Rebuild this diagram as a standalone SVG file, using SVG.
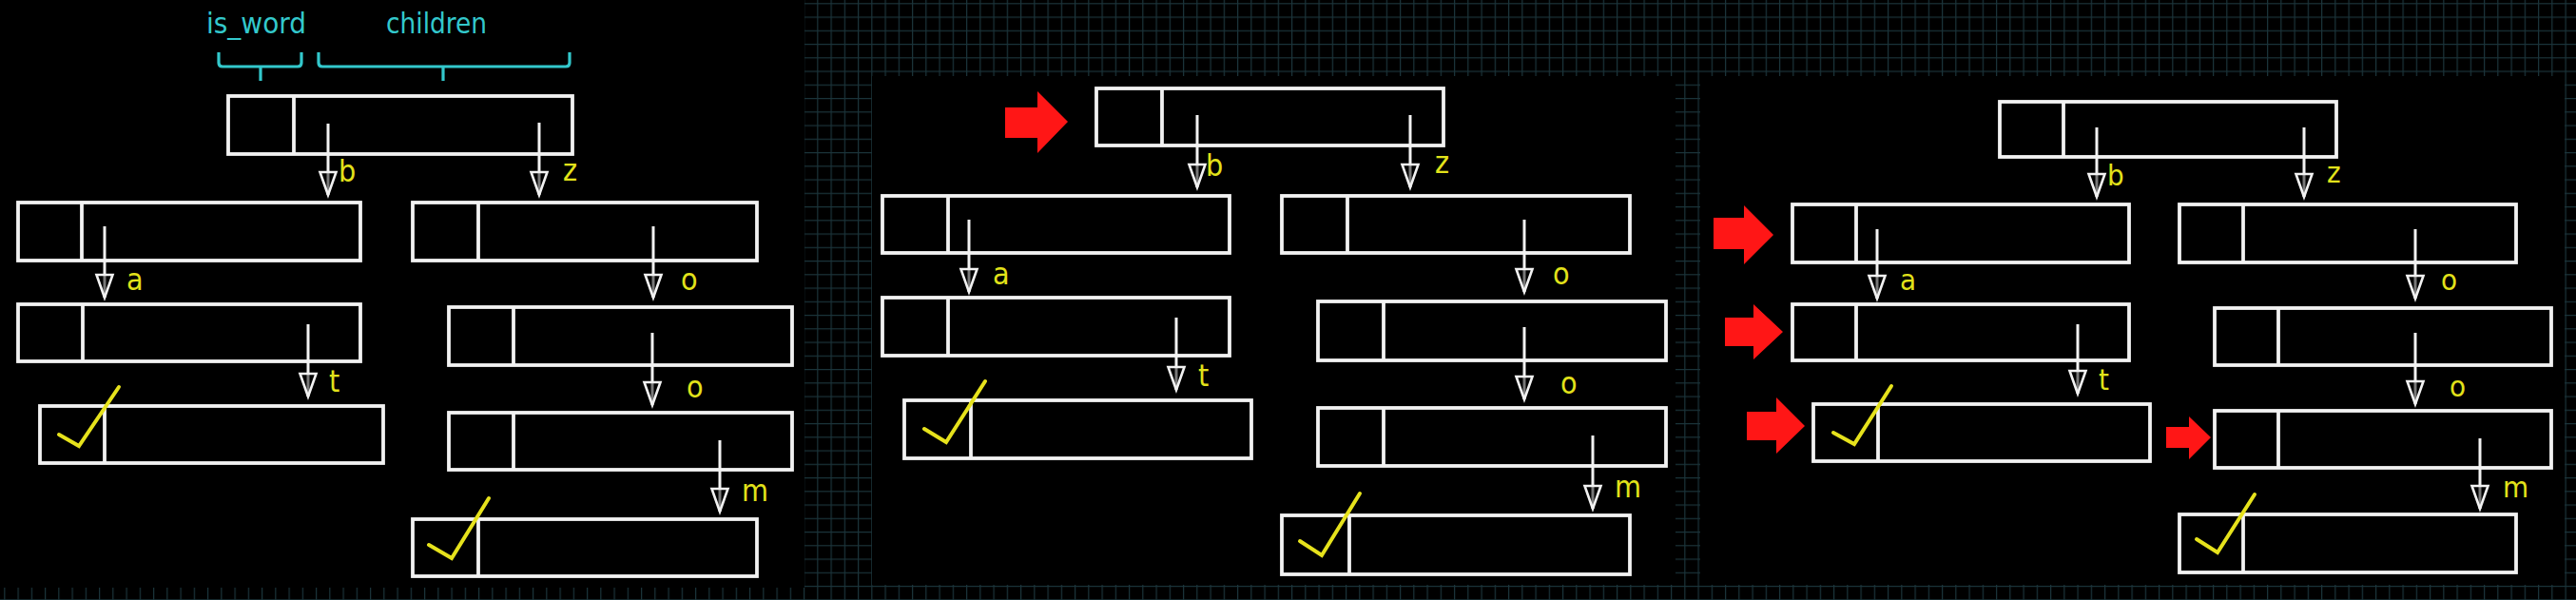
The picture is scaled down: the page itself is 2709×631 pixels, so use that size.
<svg xmlns="http://www.w3.org/2000/svg" width="2709" height="631" viewBox="0 0 2709 631">
<style>
.box{fill:none;stroke:#f2f2f2;stroke-width:3.8}
.conn{fill:none;stroke:#f2f2f2;stroke-width:3;marker-end:url(#ah)}
.lbl{fill:#e2e21a;font-family:"DejaVu Sans Condensed","DejaVu Sans",sans-serif;font-size:32px}
.lbl3{fill:#e2e21a;font-family:"DejaVu Sans Condensed","DejaVu Sans",sans-serif;font-size:31px}
.cy{fill:#33c8cc;font-family:"DejaVu Sans Condensed","DejaVu Sans",sans-serif;font-size:30px}
.brk{fill:none;stroke:#33c8cc;stroke-width:3.2;stroke-linejoin:round}
.chk{fill:none;stroke:#e6e21c;stroke-width:4;stroke-linecap:round;stroke-linejoin:miter}
.red{fill:#ff1616}
.panel{fill:#000}
</style>
<defs>
<pattern id="grid" patternUnits="userSpaceOnUse" x="4.25" y="3.25" width="14.25" height="14.25">
<path d="M0,0.6 H14.25 M0.6,0 V14.25" stroke="#1b343a" stroke-width="1.2" fill="none"/>
</pattern>
<marker id="ah" markerUnits="userSpaceOnUse" markerWidth="30" markerHeight="22" refX="25" refY="10" orient="auto" overflow="visible">
<path d="M1,1.5 L25,10 L1,18.5 Z" fill="#000" fill-opacity="0.5" stroke="#f2f2f2" stroke-width="2.6" stroke-linejoin="miter"/>
</marker>
</defs>

<g id="background">
<rect x="0" y="0" width="2709" height="631" fill="#000"/>
<rect x="0" y="0" width="2709" height="631" fill="url(#grid)"/>
<rect class="panel" x="0" y="0" width="846" height="618"/>
<rect class="panel" x="917" y="80" width="845" height="535"/>
<rect class="panel" x="1788" y="80" width="909" height="535"/>
</g>

<g id="legend">
<text class="cy" x="217" y="35" textLength="105" lengthAdjust="spacingAndGlyphs">is_word</text>
<text class="cy" x="406" y="35" textLength="106" lengthAdjust="spacingAndGlyphs">children</text>
<path class="brk" d="M230,55 V66 Q230,70 234,70 H313 Q317,70 317,66 V55 M274,70 V85"/>
<path class="brk" d="M335,55 V66 Q335,70 339,70 H595 Q599,70 599,66 V55 M466,70 V85"/>
</g>

<!-- Panel 1 nodes -->
<g id="p1-root"><rect class="box" x="240" y="101" width="362" height="61"/><line class="box" x1="309" y1="101" x2="309" y2="162"/></g>
<g id="p1-b"><rect class="box" x="19" y="213" width="360" height="61"/><line class="box" x1="86" y1="213" x2="86" y2="274"/></g>
<g id="p1-ba"><rect class="box" x="19" y="320" width="360" height="60"/><line class="box" x1="87" y1="320" x2="87" y2="380"/></g>
<g id="p1-bat"><rect class="box" x="42" y="427" width="361" height="60"/><line class="box" x1="110" y1="427" x2="110" y2="487"/><polyline class="chk" points="62,457 83,469 125,407"/></g>
<g id="p1-z"><rect class="box" x="434" y="213" width="362" height="61"/><line class="box" x1="503" y1="213" x2="503" y2="274"/></g>
<g id="p1-zo"><rect class="box" x="472" y="323" width="361" height="61"/><line class="box" x1="540" y1="323" x2="540" y2="384"/></g>
<g id="p1-zoo"><rect class="box" x="472" y="434" width="361" height="60"/><line class="box" x1="540" y1="434" x2="540" y2="494"/></g>
<g id="p1-zoom"><rect class="box" x="434" y="546" width="362" height="60"/><line class="box" x1="503" y1="546" x2="503" y2="606"/><polyline class="chk" points="451,573 475,587 514,524"/></g>

<!-- Panel 2 nodes -->
<g id="p2-root"><rect class="box" x="1153" y="93" width="365" height="60"/><line class="box" x1="1222" y1="93" x2="1222" y2="153"/></g>
<g id="p2-b"><rect class="box" x="928" y="206" width="365" height="60"/><line class="box" x1="997" y1="206" x2="997" y2="266"/></g>
<g id="p2-ba"><rect class="box" x="928" y="313" width="365" height="61"/><line class="box" x1="997" y1="313" x2="997" y2="374"/></g>
<g id="p2-bat"><rect class="box" x="951" y="421" width="365" height="61"/><line class="box" x1="1021" y1="421" x2="1021" y2="482"/><polyline class="chk" points="972,451 995,465 1036,401"/></g>
<g id="p2-z"><rect class="box" x="1348" y="206" width="366" height="60"/><line class="box" x1="1417" y1="206" x2="1417" y2="266"/></g>
<g id="p2-zo"><rect class="box" x="1386" y="317" width="366" height="62"/><line class="box" x1="1455" y1="317" x2="1455" y2="379"/></g>
<g id="p2-zoo"><rect class="box" x="1386" y="429" width="366" height="61"/><line class="box" x1="1455" y1="429" x2="1455" y2="490"/></g>
<g id="p2-zoom"><rect class="box" x="1348" y="542" width="366" height="62"/><line class="box" x1="1419" y1="542" x2="1419" y2="604"/><polyline class="chk" points="1367,569 1390,584 1430,519"/></g>

<!-- Panel 3 nodes -->
<g id="p3-root"><rect class="box" x="2103" y="107" width="354" height="58"/><line class="box" x1="2170" y1="107" x2="2170" y2="165"/></g>
<g id="p3-b"><rect class="box" x="1885" y="215" width="354" height="61"/><line class="box" x1="1952" y1="215" x2="1952" y2="276"/></g>
<g id="p3-ba"><rect class="box" x="1885" y="320" width="354" height="59"/><line class="box" x1="1952" y1="320" x2="1952" y2="379"/></g>
<g id="p3-bat"><rect class="box" x="1907" y="425" width="354" height="60"/><line class="box" x1="1975" y1="425" x2="1975" y2="485"/><polyline class="chk" points="1928,455 1950,467 1989,406"/></g>
<g id="p3-z"><rect class="box" x="2292" y="215" width="354" height="61"/><line class="box" x1="2359" y1="215" x2="2359" y2="276"/></g>
<g id="p3-zo"><rect class="box" x="2329" y="324" width="354" height="60"/><line class="box" x1="2396" y1="324" x2="2396" y2="384"/></g>
<g id="p3-zoo"><rect class="box" x="2329" y="432" width="354" height="60"/><line class="box" x1="2396" y1="432" x2="2396" y2="492"/></g>
<g id="p3-zoom"><rect class="box" x="2292" y="541" width="354" height="61"/><line class="box" x1="2359" y1="541" x2="2359" y2="602"/><polyline class="chk" points="2310,567 2332,581 2371,520"/></g>

<g id="pointers">
<polygon class="red" points="1057,113 1091,113 1091,96 1123,128 1091,161 1091,145 1057,145"/>
<polygon class="red" points="1802,229 1834,229 1834,216 1865,247 1834,278 1834,262 1802,262"/>
<polygon class="red" points="1814,334 1844,334 1844,320 1875,349 1844,378 1844,364 1814,364"/>
<polygon class="red" points="1837,433 1868,433 1868,418 1898,448 1868,477 1868,463 1837,463"/>
<polygon class="red" points="2278,449 2302,449 2302,438 2325,460 2302,483 2302,471 2278,471"/>
</g>

<g id="connectors">
<line class="conn" x1="345" y1="130" x2="345" y2="205"/>
<line class="conn" x1="567" y1="129" x2="567" y2="205"/>
<line class="conn" x1="110" y1="238" x2="110" y2="313"/>
<line class="conn" x1="687" y1="238" x2="687" y2="313"/>
<line class="conn" x1="324" y1="341" x2="324" y2="417"/>
<line class="conn" x1="686" y1="350" x2="686" y2="426"/>
<line class="conn" x1="757" y1="463" x2="757" y2="538"/>

<line class="conn" x1="1259" y1="121" x2="1259" y2="197"/>
<line class="conn" x1="1483" y1="121" x2="1483" y2="197"/>
<line class="conn" x1="1019" y1="231" x2="1019" y2="307"/>
<line class="conn" x1="1603" y1="231" x2="1603" y2="307"/>
<line class="conn" x1="1237" y1="334" x2="1237" y2="410"/>
<line class="conn" x1="1603" y1="344" x2="1603" y2="420"/>
<line class="conn" x1="1675" y1="458" x2="1675" y2="535"/>

<line class="conn" x1="2205" y1="134" x2="2205" y2="207"/>
<line class="conn" x1="2423" y1="134" x2="2423" y2="207"/>
<line class="conn" x1="1974" y1="241" x2="1974" y2="314"/>
<line class="conn" x1="2540" y1="241" x2="2540" y2="314"/>
<line class="conn" x1="2185" y1="341" x2="2185" y2="414"/>
<line class="conn" x1="2540" y1="350" x2="2540" y2="425"/>
<line class="conn" x1="2608" y1="461" x2="2608" y2="535"/>

<text class="lbl" x="356" y="191">b</text>
<text class="lbl" x="592" y="190">z</text>
<text class="lbl" x="133" y="305">a</text>
<text class="lbl" x="716" y="305">o</text>
<text class="lbl" x="346" y="412">t</text>
<text class="lbl" x="722" y="418">o</text>
<text class="lbl" x="780" y="527">m</text>

<text class="lbl" x="1268" y="185">b</text>
<text class="lbl" x="1509" y="182">z</text>
<text class="lbl" x="1044" y="299">a</text>
<text class="lbl" x="1633" y="299">o</text>
<text class="lbl" x="1260" y="406">t</text>
<text class="lbl" x="1641" y="414">o</text>
<text class="lbl" x="1698" y="523">m</text>

<text class="lbl3" x="2216" y="195">b</text>
<text class="lbl3" x="2447" y="192">z</text>
<text class="lbl3" x="1998" y="305">a</text>
<text class="lbl3" x="2567" y="305">o</text>
<text class="lbl3" x="2207" y="410">t</text>
<text class="lbl3" x="2576" y="417">o</text>
<text class="lbl3" x="2632" y="523">m</text>
</g>
</svg>
